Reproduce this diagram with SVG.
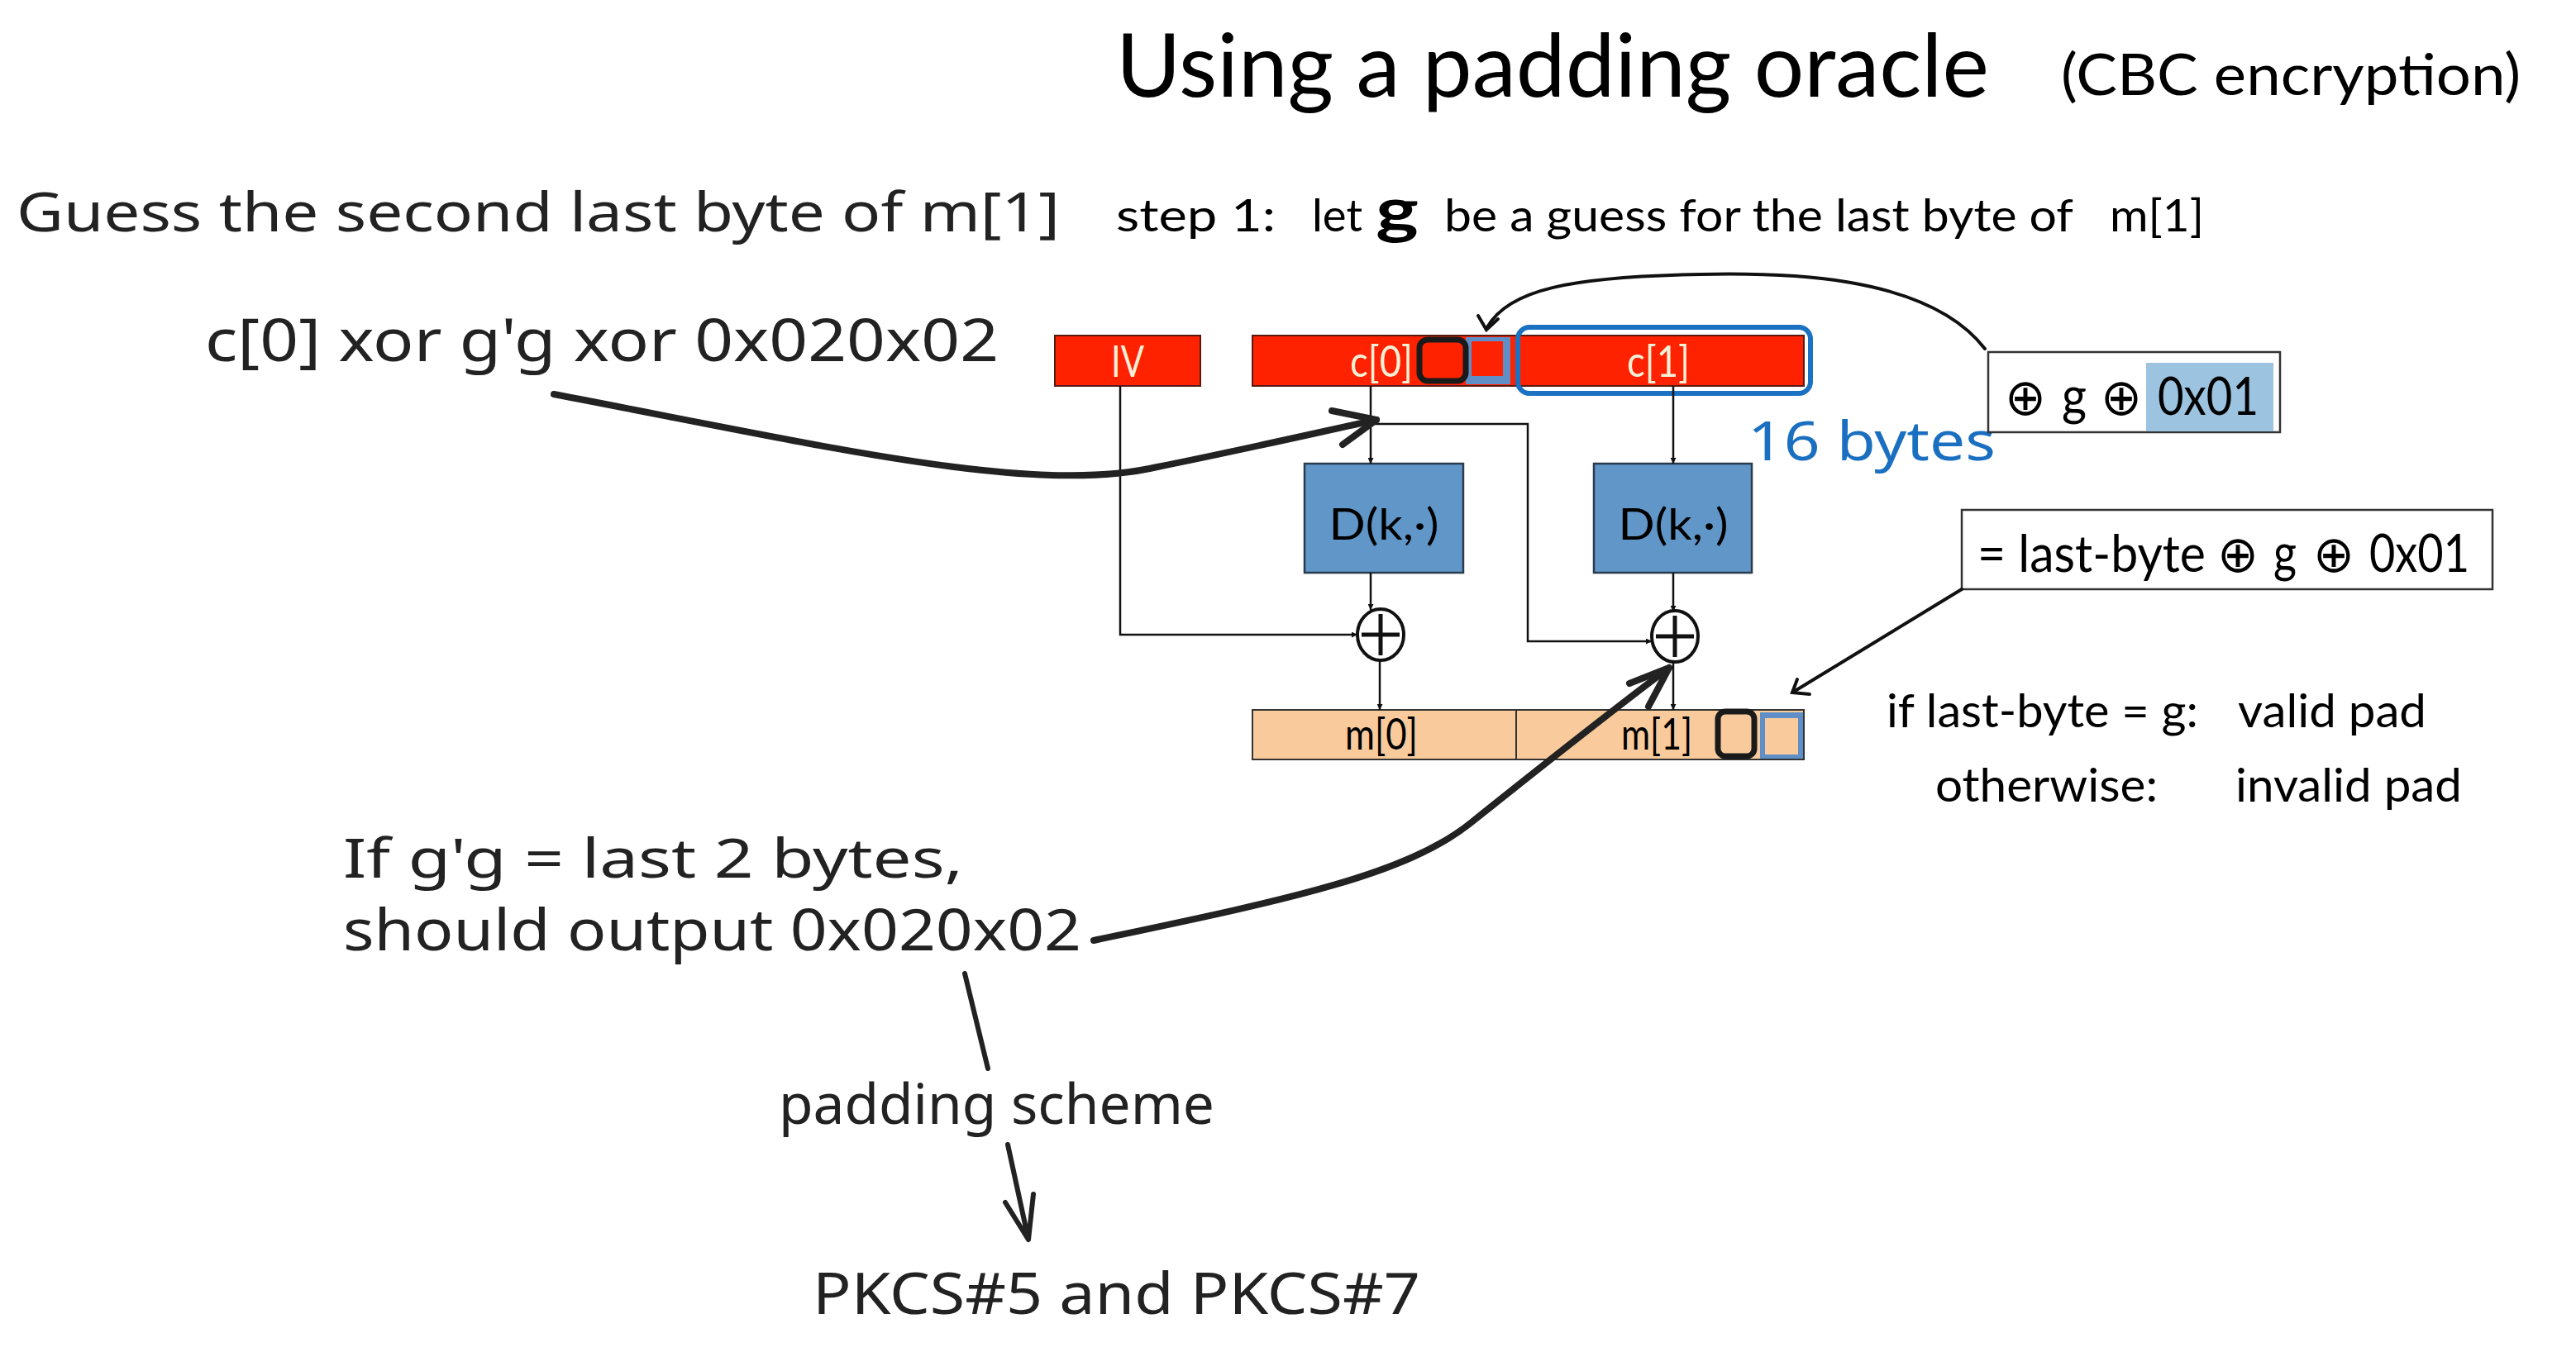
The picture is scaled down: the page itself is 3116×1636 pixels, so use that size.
<svg xmlns="http://www.w3.org/2000/svg" width="3116" height="1636" viewBox="0 0 3116 1636">
<defs>
<style>
.cal{font-family:Lato,"Open Sans","DejaVu Sans",sans-serif;fill:#000}
.hand{font-family:"Noto Sans","DejaVu Sans",sans-serif;fill:#222}
.cw{font-family:Lato,"Open Sans",sans-serif;fill:#f4f0d8;font-size:52px;text-anchor:middle}
.lab{font-family:Lato,"Open Sans",sans-serif;fill:#000;font-size:52px;text-anchor:middle}
.ox{font-family:"DejaVu Sans",sans-serif;font-size:62px;font-weight:200;fill:#000}
.thin{stroke:#111;stroke-width:2.5;fill:none}
.thick{stroke:#222;stroke-width:8;fill:none;stroke-linecap:round;stroke-linejoin:round}
.med{stroke:#111;stroke-width:4;fill:none;stroke-linecap:round}
.red{fill:#ff2200;stroke:#5a1a10;stroke-width:2}
.dbox{fill:#6196c8;stroke:#2b3b4d;stroke-width:2.5}
.mbox{fill:#f9cb9c;stroke:#333;stroke-width:2}
</style>
<marker id="ah" viewBox="0 0 10 10" refX="10" refY="5" markerWidth="7" markerHeight="7" markerUnits="userSpaceOnUse" orient="auto">
<path d="M0,0 L10,5 L0,10 z" fill="#111"/>
</marker>
</defs>
<rect width="3116" height="1636" fill="#fff"/>

<g id="title">
<text class="cal" x="1350" y="117" font-size="106" textLength="1056" lengthAdjust="spacingAndGlyphs">Using a padding oracle</text>
<text class="cal" x="2493" y="115" font-size="70" textLength="556" lengthAdjust="spacingAndGlyphs">(CBC encryption)</text>
</g>

<g id="heading">
<text class="hand" x="20" y="280" font-size="66" textLength="1262" lengthAdjust="spacingAndGlyphs">Guess the second last byte of m[1]</text>
<text class="cal" x="1350" y="280" font-size="54" textLength="193" lengthAdjust="spacingAndGlyphs">step 1:</text>
<text class="cal" x="1587" y="280" font-size="54" textLength="61" lengthAdjust="spacingAndGlyphs">let</text>
<text class="cal" x="1664" y="280" font-size="74" font-weight="bold" textLength="52" lengthAdjust="spacingAndGlyphs">g</text>
<text class="cal" x="1747" y="280" font-size="54" textLength="761" lengthAdjust="spacingAndGlyphs">be a guess for the last byte of</text>
<text class="cal" x="2552" y="280" font-size="54" textLength="114" lengthAdjust="spacingAndGlyphs">m[1]</text>
</g>

<g id="note-c0">
<text class="hand" x="248" y="437" font-size="72" textLength="960" lengthAdjust="spacingAndGlyphs">c[0] xor g'g xor 0x020x02</text>
</g>

<g id="iv">
<rect class="red" x="1276" y="406" width="176" height="61"/>
<text class="cw" x="1364" y="456" textLength="40" lengthAdjust="spacingAndGlyphs">IV</text>
</g>

<g id="c0">
<rect class="red" x="1515" y="406" width="319" height="61"/>
<text class="cw" x="1671" y="456" textLength="76" lengthAdjust="spacingAndGlyphs">c[0]</text>
<rect x="1773" y="408" width="54" height="57" fill="#5f8fc6"/>
<rect x="1780" y="413" width="38" height="42" fill="#ff2200"/>
<rect x="1717" y="411" width="56" height="50" rx="10" fill="none" stroke="#1a1a1a" stroke-width="7"/>
</g>

<g id="c1">
<rect class="red" x="1834" y="406" width="348" height="61"/>
<text class="cw" x="2006" y="456" textLength="76" lengthAdjust="spacingAndGlyphs">c[1]</text>
<rect x="1836" y="396" width="354" height="80" rx="14" fill="none" stroke="#1b72c2" stroke-width="6"/>
</g>

<g id="bytes16">
<text class="hand" x="2114" y="557" font-size="66" style="fill:#1a6fc0" textLength="300" lengthAdjust="spacingAndGlyphs">16 bytes</text>
</g>

<g id="d1">
<rect class="dbox" x="1578" y="561" width="192" height="132"/>
<text class="lab" x="1674" y="653" font-size="62" textLength="133" lengthAdjust="spacingAndGlyphs">D(k,·)</text>
</g>
<g id="d2">
<rect class="dbox" x="1928" y="561" width="191" height="132"/>
<text class="lab" x="2024" y="653" font-size="62" textLength="133" lengthAdjust="spacingAndGlyphs">D(k,·)</text>
</g>

<g id="xor1">
<ellipse cx="1670" cy="768" rx="28" ry="31" fill="#fff" stroke="#111" stroke-width="4"/>
<path d="M1670,743 V793 M1647,768 H1693" stroke="#111" stroke-width="5"/>
</g>
<g id="xor2">
<ellipse cx="2026" cy="770" rx="28" ry="31" fill="#fff" stroke="#111" stroke-width="4"/>
<path d="M2026,745 V795 M2003,770 H2049" stroke="#111" stroke-width="5"/>
</g>

<g id="m">
<rect class="mbox" x="1515" y="859" width="319" height="60"/>
<rect class="mbox" x="1834" y="859" width="348" height="60"/>
<text class="lab" x="1671" y="907" textLength="88" lengthAdjust="spacingAndGlyphs">m[0]</text>
<text class="lab" x="2004" y="907" textLength="86" lengthAdjust="spacingAndGlyphs">m[1]</text>
<rect x="2129" y="862" width="52" height="56" fill="#5f8fc6"/>
<rect x="2135" y="869" width="40" height="44" fill="#f9cb9c"/>
<rect x="2078" y="861" width="44" height="54" rx="9" fill="none" stroke="#1a1a1a" stroke-width="7"/>
</g>

<g id="xorbox">
<rect x="2405" y="426" width="353" height="97" fill="#fff" stroke="#333" stroke-width="2.5"/>
<rect x="2596" y="439" width="154" height="83" fill="#9cc3df"/>
<text class="ox" x="2425" y="502" textLength="50" lengthAdjust="spacingAndGlyphs">⊕</text>
<text class="cal" x="2494" y="502" font-size="64" textLength="30" lengthAdjust="spacingAndGlyphs">g</text>
<text class="ox" x="2541" y="502" textLength="50" lengthAdjust="spacingAndGlyphs">⊕</text>
<text class="cal" x="2610" y="502" font-size="64" textLength="122" lengthAdjust="spacingAndGlyphs">0x01</text>
</g>

<g id="eqbox">
<rect x="2373" y="617" width="642" height="96" fill="#fff" stroke="#333" stroke-width="2.5"/>
<text class="cal" x="2392" y="692" font-size="62" textLength="276" lengthAdjust="spacingAndGlyphs">= last-byte</text>
<text class="ox" x="2682" y="692" textLength="50" lengthAdjust="spacingAndGlyphs">⊕</text>
<text class="cal" x="2750" y="692" font-size="64" textLength="28" lengthAdjust="spacingAndGlyphs">g</text>
<text class="ox" x="2798" y="692" textLength="50" lengthAdjust="spacingAndGlyphs">⊕</text>
<text class="cal" x="2866" y="692" font-size="64" textLength="121" lengthAdjust="spacingAndGlyphs">0x01</text>
</g>

<g id="cond">
<text class="cal" x="2282" y="880" font-size="56" textLength="377" lengthAdjust="spacingAndGlyphs">if last-byte = g:</text>
<text class="cal" x="2707" y="880" font-size="56" textLength="228" lengthAdjust="spacingAndGlyphs">valid pad</text>
<text class="cal" x="2341" y="970" font-size="56" textLength="269" lengthAdjust="spacingAndGlyphs">otherwise:</text>
<text class="cal" x="2704" y="970" font-size="56" textLength="274" lengthAdjust="spacingAndGlyphs">invalid pad</text>
</g>

<g id="note-if">
<text class="hand" x="415" y="1062" font-size="66" textLength="750" lengthAdjust="spacingAndGlyphs">If g'g = last 2 bytes,</text>
<text class="hand" x="415" y="1150" font-size="70" textLength="893" lengthAdjust="spacingAndGlyphs">should output 0x020x02</text>
</g>
<g id="note-padding">
<text class="hand" x="942" y="1360" font-size="68" textLength="527" lengthAdjust="spacingAndGlyphs">padding scheme</text>
</g>
<g id="note-pkcs">
<text class="hand" x="983" y="1590" font-size="70" textLength="735" lengthAdjust="spacingAndGlyphs">PKCS#5 and PKCS#7</text>
</g>

<g id="connectors">
<path class="thin" d="M1658,467 V561" marker-end="url(#ah)"/>
<path class="thin" d="M2024,467 V561" marker-end="url(#ah)"/>
<path class="thin" d="M1658,513 H1848 V776 H1998" marker-end="url(#ah)"/>
<path class="thin" d="M1355,467 V768 H1642" marker-end="url(#ah)"/>
<path class="thin" d="M1658,693 V738" marker-end="url(#ah)"/>
<path class="thin" d="M2024,693 V740" marker-end="url(#ah)"/>
<path class="thin" d="M1669,799 V859" marker-end="url(#ah)"/>
<path class="thin" d="M2024,801 V859" marker-end="url(#ah)"/>

<path class="thick" d="M670,477 C1000,540 1250,600 1400,565 C1500,545 1600,522 1665,508"/>
<path class="thick" d="M1611,497 L1665,508 L1624,538"/>

<path class="thick" d="M1323,1138 C1550,1090 1700,1060 1780,995 C1880,915 1950,860 2019,808"/>
<path class="thick" d="M1971,827 L2019,808 L1994,855"/>

<path class="med" d="M2401,422 C2330,330 2150,330 2057,332 C1900,335 1825,350 1799,396"/>
<path class="med" d="M1788,382 L1798,399 L1812,386"/>

<path class="med" d="M2373,713 L2168,838"/>
<path class="med" d="M2174,822 L2168,838 L2189,840"/>

<path class="thick" d="M1167,1178 L1195,1293" style="stroke-width:6"/>
<path class="thick" d="M1219,1385 L1244,1500 M1216,1455 L1244,1500 L1250,1445" style="stroke-width:6"/>
</g>
</svg>
